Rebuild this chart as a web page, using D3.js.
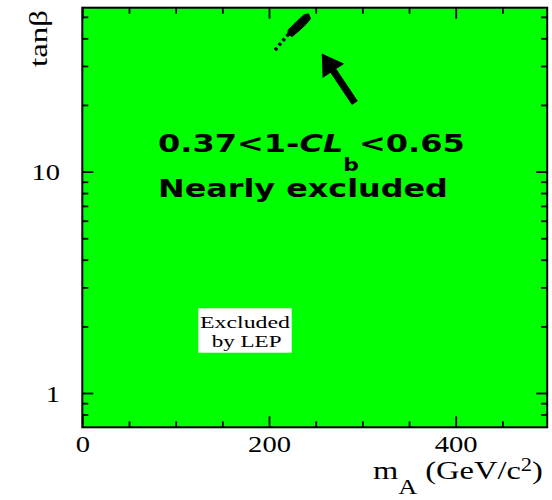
<!DOCTYPE html>
<html>
<head>
<meta charset="utf-8">
<script src="https://cdn.jsdelivr.net/npm/d3@7"></script>
<style>
  html, body { margin: 0; padding: 0; background: #fff; }
  svg { display: block; }
  .serif { font-family: "Liberation Serif", "DejaVu Serif", serif; fill: #000; }
  .note { font-family: "DejaVu Sans", sans-serif; font-weight: bold; fill: #000; }
</style>
</head>
<body>
<svg id="chart" width="552" height="500"></svg>
<script>
// Axis ranges and ticks
const massDomain = [0, 498];          // m_A in GeV/c^2
const tanbDomain = [0.7, 55];         // tan(beta), log scale
const massMajor = [0, 200, 400];
const massMinor = [50, 100, 150, 250, 300, 350, 450];
const tanbMajor = [1, 10];
const tanbMinor = [0.8, 0.9, 2, 3, 4, 5, 6, 7, 8, 9, 20, 30, 40, 50];

// 1-CL_b contour in (m_A, tan beta): solid island and dashed tail
const contourCore = [[219.8, 41.6], [225.0, 40.8], [233.6, 43.8], [240.2, 46.6], [244.4, 49.0],
                     [242.4, 51.6], [237.2, 51.0], [229.6, 47.6], [220.8, 43.8]];
const contourTail = [[206.5, 35.4], [213.5, 38.4], [220.5, 41.6]];

// Arrow pointing at the contour (from, to)
const arrowFrom = [292, 20.4];
const arrowTo = [256.5, 34.2];

const svg = d3.select("#chart");
const x = d3.scaleLinear().domain(massDomain).range([82.3, 547.2]);
const y = d3.scaleLog().domain(tanbDomain).range([427.3, 7.7]);
const [x0, x1] = x.range();
const [yb, yt] = y.range();

// Excluded region fill
svg.append("rect")
  .attr("x", x0).attr("y", yt)
  .attr("width", x1 - x0).attr("height", yb - yt)
  .attr("fill", "#00ff00");

// Contour
const line = d3.line().x(d => x(d[0])).y(d => y(d[1]));
svg.append("path").attr("d", line(contourCore) + "Z")
  .attr("fill", "#000").attr("stroke", "#000").attr("stroke-width", 1);
svg.append("path").attr("d", line(contourTail))
  .attr("stroke", "#000").attr("stroke-width", 3.5).attr("fill", "none")
  .attr("stroke-dasharray", "3,3");

// Axes with inward ticks on all four sides
function addAxis(axisFn, scale, values, size, transform, minor) {
  const a = axisFn(scale).tickValues(values).tickSize(size).tickSizeOuter(0);
  if (minor) a.tickFormat("");
  const g = svg.append("g").attr("transform", transform).call(a);
  g.select(".domain").remove();
  g.selectAll(".tick line").attr("stroke", "#000").attr("stroke-width", 1.8);
  if (minor) g.selectAll(".tick text").remove();
  return g;
}
const xAxis = addAxis(d3.axisBottom, x, massMajor, -11, `translate(0,${yb})`, false);
addAxis(d3.axisBottom, x, massMinor, -6, `translate(0,${yb})`, true);
addAxis(d3.axisTop, x, massMajor, -11, `translate(0,${yt})`, true);
addAxis(d3.axisTop, x, massMinor, -6, `translate(0,${yt})`, true);
const yAxis = addAxis(d3.axisLeft, y, tanbMajor, -11, `translate(${x0},0)`, false);
addAxis(d3.axisLeft, y, tanbMinor, -6, `translate(${x0},0)`, true);
addAxis(d3.axisRight, y, tanbMajor, -11, `translate(${x1},0)`, true);
addAxis(d3.axisRight, y, tanbMinor, -6, `translate(${x1},0)`, true);

xAxis.selectAll(".tick text")
  .attr("class", "serif").attr("font-size", 24)
  .attr("y", 24.7).attr("dy", 0)
  .attr("fill", "#000");
yAxis.selectAll(".tick text")
  .attr("class", "serif").attr("font-size", 24)
  .attr("x", -22.3).attr("dy", "0.34em")
  .attr("fill", "#000");
// wider glyphs for the tick numbers
svg.selectAll(".tick text").each(function () {
  const w = this.getComputedTextLength();
  d3.select(this).attr("textLength", w * 1.19).attr("lengthAdjust", "spacingAndGlyphs");
});

// Frame
svg.append("rect")
  .attr("x", x0).attr("y", yt)
  .attr("width", x1 - x0).attr("height", yb - yt)
  .attr("fill", "none").attr("stroke", "#000").attr("stroke-width", 2);

// Stretch a text horizontally so it starts at left and spans width
function fit(textSel, left, baseline, width) {
  textSel.attr("x", 0).attr("y", 0);
  const b = textSel.node().getBBox();
  const sx = width / b.width;
  textSel.attr("transform", `translate(${left - b.x * sx},${baseline}) scale(${sx},1)`);
}

// Axis titles
const xt = svg.append("text").attr("class", "serif").attr("font-size", 26);
xt.append("tspan").text("m");
xt.append("tspan").attr("font-size", 21).attr("dy", 15).text("A");
xt.append("tspan").attr("dy", -15).text(" (GeV/c");
xt.append("tspan").attr("font-size", 18).attr("dy", -8).text("2");
xt.append("tspan").attr("dy", 8).text(")");
fit(xt, 373, 479, 170);

svg.append("text").attr("class", "serif").attr("font-size", 26)
  .attr("text-anchor", "middle")
  .attr("transform", "translate(47,38.5) rotate(-90)")
  .attr("textLength", 57).attr("lengthAdjust", "spacingAndGlyphs")
  .text("tanβ");

// LEP label box
svg.append("rect").attr("x", 198.3).attr("y", 308.3).attr("width", 93.4).attr("height", 44.4)
  .attr("fill", "#fff");
const e1 = svg.append("text").attr("class", "serif").attr("font-size", 16).text("Excluded");
fit(e1, 200, 328.3, 90);
const e2 = svg.append("text").attr("class", "serif").attr("font-size", 16).text("by LEP");
fit(e2, 211.7, 346.7, 70);

// Annotation arrow
const ax1 = x(arrowFrom[0]), ay1 = y(arrowFrom[1]);
const ax2 = x(arrowTo[0]), ay2 = y(arrowTo[1]);
const ang = Math.atan2(ay2 - ay1, ax2 - ax1);
const headLen = 21, headHalf = 13;
const bx = ax2 - headLen * Math.cos(ang), by = ay2 - headLen * Math.sin(ang);
svg.append("line")
  .attr("x1", ax1).attr("y1", ay1).attr("x2", bx + 2 * Math.cos(ang)).attr("y2", by + 2 * Math.sin(ang))
  .attr("stroke", "#000").attr("stroke-width", 7);
svg.append("path")
  .attr("d", `M${ax2},${ay2}L${bx + headHalf * Math.sin(ang)},${by - headHalf * Math.cos(ang)}` +
             `L${bx - headHalf * Math.sin(ang)},${by + headHalf * Math.cos(ang)}Z`)
  .attr("fill", "#000");

// Annotation text, widened to its full span
const n1 = svg.append("text").attr("class", "note").attr("font-size", 25);
n1.append("tspan").text("0.37<1-");
n1.append("tspan").attr("font-style", "italic").text("CL");
n1.append("tspan").attr("font-size", 17).attr("dy", 19).text("b");
n1.append("tspan").attr("dy", -19).text("<0.65");
fit(n1, 158, 151.7, 307);

const n2 = svg.append("text").attr("class", "note").attr("font-size", 24).text("Nearly excluded");
fit(n2, 158, 196.7, 290);
</script>
</body>
</html>
